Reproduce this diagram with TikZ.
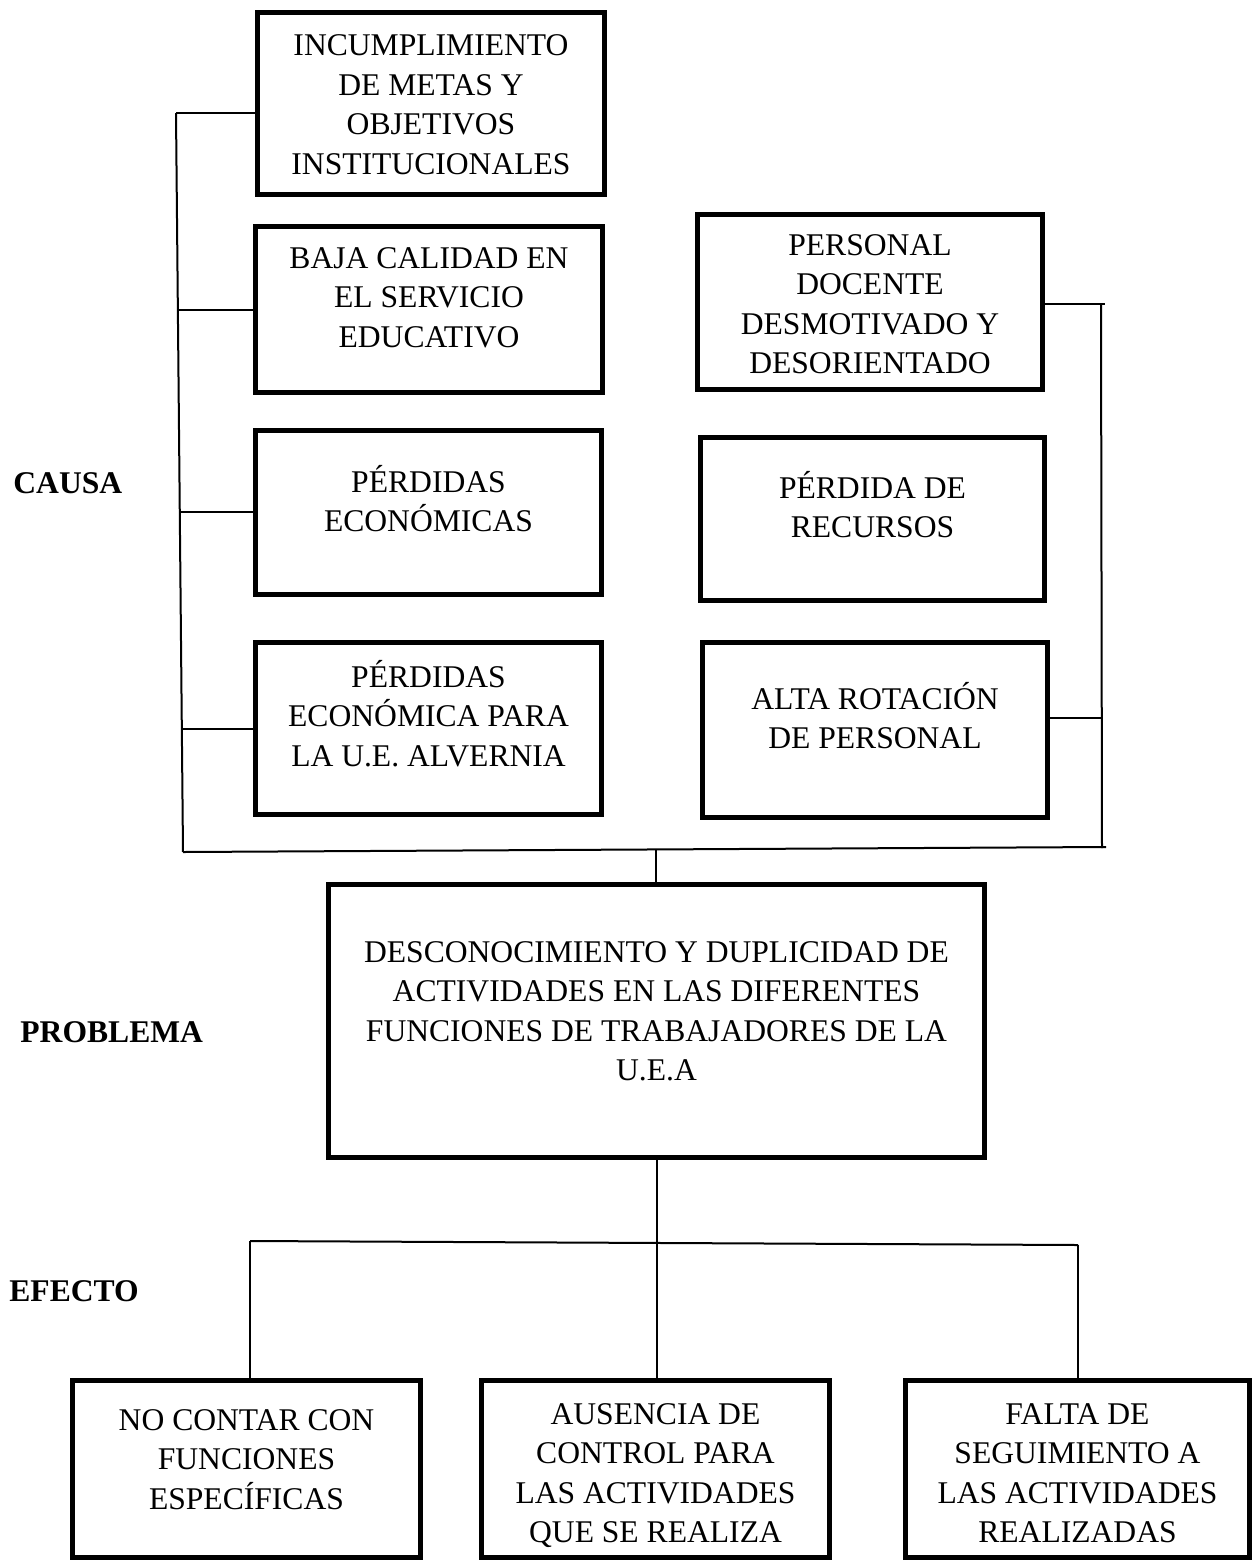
\documentclass[tikz,border=0pt]{standalone}
\usepackage{fontspec}
\setmainfont{Liberation Serif}
\usetikzlibrary{fit}
\newcommand{\tp}{\rule{0pt}{16pt}}
\begin{document}
\begin{tikzpicture}[x=0.5pt,y=-0.5pt,
  boxnode/.style={draw, line width=2.7pt, inner sep=0pt, rectangle},
  txt/.style={anchor=north, inner sep=0pt, align=center, font=\fontsize{15.8pt}{19.7pt}\selectfont},
  lbl/.style={anchor=base west, inner sep=0pt, font=\fontsize{15.8pt}{19.7pt}\selectfont\bfseries},
  conn/.style={line width=1pt}]
\useasboundingbox (0,0) rectangle (1253,1560);
\clip (0,0) rectangle (1253,1560);

% cause boxes (left column)
\node[boxnode, fit={(257.7,12.7) (604.3,194.3)}] (b1) {};
\node[boxnode, fit={(255.7,226.7) (602.3,392.3)}] (b2) {};
\node[boxnode, fit={(255.7,430.7) (601.3,594.3)}] (b3) {};
\node[boxnode, fit={(255.7,642.7) (601.3,814.3)}] (b4) {};
% cause boxes (right column)
\node[boxnode, fit={(697.7,214.7) (1042.3,389.3)}] (r1) {};
\node[boxnode, fit={(700.7,437.7) (1044.3,600.3)}] (r2) {};
\node[boxnode, fit={(702.7,642.7) (1047.3,817.3)}] (r3) {};
% problem
\node[boxnode, fit={(328.7,884.7) (984.3,1157.3)}] (p) {};
% effects
\node[boxnode, fit={(72.7,1380.7) (420.3,1557.3)}] (e1) {};
\node[boxnode, fit={(481.7,1380.7) (829.3,1557.3)}] (e2) {};
\node[boxnode, fit={(905.7,1380.7) (1249.3,1557.3)}] (e3) {};

% texts
\node[txt] (tb1) at (431,23.5) {\tp INCUMPLIMIENTO\\DE METAS Y\\OBJETIVOS\\INSTITUCIONALES};
\node[txt] (tb2) at (429,236) {\tp BAJA CALIDAD EN\\EL SERVICIO\\EDUCATIVO};
\node[txt] (tb3) at (428.5,460) {\tp PÉRDIDAS\\ECONÓMICAS};
\node[txt] (tb4) at (428.5,655) {\tp PÉRDIDAS\\ECONÓMICA PARA\\LA U.E. ALVERNIA};
\node[txt] (tr1) at (870,223) {\tp PERSONAL\\DOCENTE\\DESMOTIVADO Y\\DESORIENTADO};
\node[txt] (tr2) at (872.5,466) {\tp PÉRDIDA DE\\RECURSOS};
\node[txt] (tr3) at (875,677) {\tp ALTA ROTACIÓN\\DE PERSONAL};
\node[txt] (tp) at (656.5,930) {\tp DESCONOCIMIENTO Y DUPLICIDAD DE\\ACTIVIDADES EN LAS DIFERENTES\\FUNCIONES DE TRABAJADORES DE LA\\U.E.A};
\node[txt] (te1) at (246.5,1398) {\tp NO CONTAR CON\\FUNCIONES\\ESPECÍFICAS};
\node[txt] (te2) at (655.5,1392) {\tp AUSENCIA DE\\CONTROL PARA\\LAS ACTIVIDADES\\QUE SE REALIZA};
\node[txt] (te3) at (1077.5,1392) {\tp FALTA DE\\SEGUIMIENTO A\\LAS ACTIVIDADES\\REALIZADAS};

% side labels
\node[lbl] (causa) at (13,493) {CAUSA};
\node[lbl] (problema) at (20,1042) {PROBLEMA};
\node[lbl] (efecto) at (9,1301) {EFECTO};

% junction coordinates
\coordinate (L1) at (176,113);
\coordinate (L2) at (179,310);
\coordinate (L3) at (180.5,512);
\coordinate (L4) at (181.5,729);
\coordinate (L5) at (183,852);
\coordinate (RB) at (1106,847);
\coordinate (R0) at (1105,304);
\coordinate (R1) at (1101,304);
\coordinate (R3) at (1101.5,718);
\coordinate (R5) at (1102,848);
\coordinate (C1) at (656,850);
\coordinate (E0) at (657,1243);
\coordinate (E1) at (250,1241);
\coordinate (E3) at (1078,1245);

% cause connectors
\draw[conn] (L1) -- (L5);
\draw[conn] (L1) -- (L1 -| b1.west);
\draw[conn] (L2) -- (L2 -| b2.west);
\draw[conn] (L3) -- (L3 -| b3.west);
\draw[conn] (L4) -- (L4 -| b4.west);
\draw[conn] (L5) -- (RB);
\draw[conn] (R1) -- (R5);
\draw[conn] (R0 -| r1.east) -- (R0);
\draw[conn] (R3 -| r3.east) -- (R3);
\draw[conn] (C1) -- (C1 |- p.north);
% effect connectors
\draw[conn] (p.south -| E0) -- (E0);
\draw[conn] (E1) -- (E3);
\draw[conn] (E1) -- (E1 |- e1.north);
\draw[conn] (E0) -- (E0 |- e2.north);
\draw[conn] (E3) -- (E3 |- e3.north);
\end{tikzpicture}
\end{document}
